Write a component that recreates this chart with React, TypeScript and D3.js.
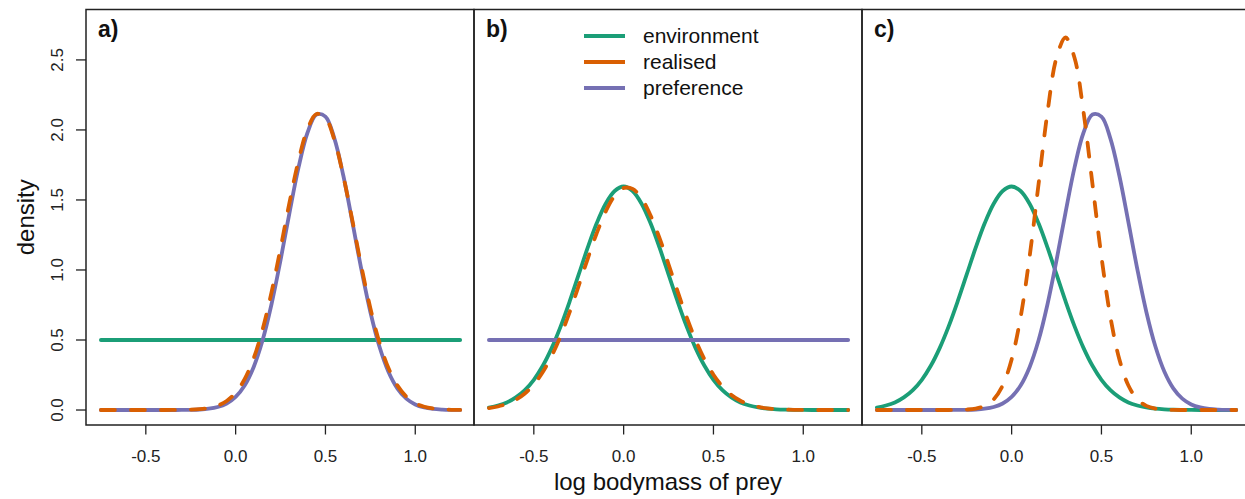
import React from 'react';
import * as d3 from 'd3';

// Shared evaluation grid for the density curves (log bodymass of prey)
const xGrid = [
  -0.75, -0.7, -0.65, -0.6, -0.55, -0.5, -0.45, -0.4, -0.35, -0.3,
  -0.25, -0.2, -0.15, -0.1, -0.05, 0, 0.05, 0.1, 0.15, 0.2,
  0.25, 0.3, 0.35, 0.4, 0.45, 0.5, 0.55, 0.6, 0.65, 0.7,
  0.75, 0.8, 0.85, 0.9, 0.95, 1.0, 1.05, 1.1, 1.15, 1.2, 1.25,
];

// Flat (uniform) density endpoints
const flatX = [-0.75, 1.25];
const flatDensity = [0.5, 0.5];

// Environment density (bell, centred on 0)
const envDensity = [
  0.018, 0.032, 0.054, 0.09, 0.142, 0.216, 0.316, 0.444, 0.599, 0.777,
  0.968, 1.159, 1.333, 1.473, 1.564, 1.596, 1.564, 1.473, 1.333, 1.159,
  0.968, 0.777, 0.599, 0.444, 0.316, 0.216, 0.142, 0.09, 0.054, 0.032,
  0.018, 0.0095, 0.0049, 0.0024, 0.0012, 0.0005, 0.0002, 0.0001, 0, 0, 0,
];

// Preference density (bell, centred near 0.47)
const prefDensity = [
  0, 0, 0, 0, 0, 0, 0, 0, 0.0002, 0.0005,
  0.0014, 0.0037, 0.0092, 0.0213, 0.0463, 0.0932, 0.175, 0.306, 0.498, 0.757,
  1.07, 1.41, 1.731, 1.98, 2.11, 2.095, 1.938, 1.671, 1.342, 1.004,
  0.7, 0.455, 0.275, 0.155, 0.0815, 0.0399, 0.0182, 0.0077, 0.0031, 0.0011, 0.0004,
];

// Realised densities per panel
const realisedA = [
  0, 0, 0, 0, 0, 0, 0, 0, 0.0003, 0.001,
  0.0025, 0.0063, 0.0147, 0.0319, 0.0648, 0.124, 0.22, 0.368, 0.575, 0.842,
  1.154, 1.482, 1.781, 2.005, 2.114, 2.086, 1.928, 1.668, 1.352, 1.026,
  0.728, 0.485, 0.302, 0.176, 0.0963, 0.0492, 0.0235, 0.0106, 0.0044, 0.0017, 0.0006,
];
const realisedB = [
  0.0139, 0.0251, 0.0438, 0.0735, 0.118, 0.183, 0.272, 0.388, 0.532, 0.701,
  0.888, 1.08, 1.262, 1.417, 1.529, 1.585, 1.579, 1.511, 1.389, 1.227,
  1.041, 0.849, 0.665, 0.501, 0.362, 0.252, 0.168, 0.108, 0.0665, 0.0393,
  0.0224, 0.0122, 0.0064, 0.0032, 0.0016, 0.0007, 0.0003, 0.0001, 0, 0, 0,
];
const realisedC = [
  0, 0, 0, 0, 0, 0, 0, 0, 0.0002, 0.0009,
  0.0032, 0.0103, 0.0297, 0.0763, 0.175, 0.361, 0.664, 1.095, 1.614, 2.13,
  2.516, 2.66, 2.516, 2.13, 1.614, 1.095, 0.664, 0.361, 0.175, 0.0763,
  0.0297, 0.0103, 0.0032, 0.0009, 0.0002, 0, 0, 0, 0, 0, 0,
];

const panelLabels = ['a)', 'b)', 'c)'];
const xTicks = [-0.5, 0.0, 0.5, 1.0];
const yTicks = [0.0, 0.5, 1.0, 1.5, 2.0, 2.5];
const legendLabels = ['environment', 'realised', 'preference'];

const COLORS = { env: '#1B9E77', real: '#D95F02', pref: '#7570B3' };
const FONT = '"Liberation Sans", Arial, Helvetica, sans-serif';

type Series = { x: number[]; y: number[] };
const grid = (y: number[]): Series => ({ x: xGrid, y });
const flat: Series = { x: flatX, y: flatDensity };

const panels = [
  { label: panelLabels[0], env: flat, pref: grid(prefDensity), real: grid(realisedA) },
  { label: panelLabels[1], env: grid(envDensity), pref: flat, real: grid(realisedB) },
  { label: panelLabels[2], env: grid(envDensity), pref: grid(prefDensity), real: grid(realisedC) },
];

export default function App() {
  const W = 1245;
  const H = 499;
  const left = 86;
  const pw = 388;
  const top = 9.5;
  const bottom = 425;
  const lw = 3.8;

  const y = d3.scaleLinear().domain([-0.107, 2.86]).range([bottom, top]);

  const fmt = (v: number) => d3.format('.1f')(v).replace('\u2212', '-');

  const pathFor = (s: Series, xs: d3.ScaleLinear<number, number>) => {
    const pts: [number, number][] = s.x.map((xv, i) => [xv, s.y[i]]);
    return d3
      .line<[number, number]>()
      .x((d) => xs(d[0]))
      .y((d) => y(d[1]))
      .curve(d3.curveCatmullRom.alpha(0.5))(pts) as string;
  };

  return (
    <svg
      width={W}
      height={H}
      style={{ position: 'absolute', left: 0, top: 0, background: '#fff' }}
      fontFamily={FONT}
    >
      <rect x={0} y={0} width={W} height={H} fill="#fff" />
      {panels.map((p, i) => {
        const x0 = left + pw * i;
        const xs = d3.scaleLinear().domain([-0.833, 1.327]).range([x0, x0 + pw]);
        return (
          <g key={i}>
            <path d={pathFor(p.env, xs)} fill="none" stroke={COLORS.env} strokeWidth={lw} strokeLinecap="round" />
            <path d={pathFor(p.pref, xs)} fill="none" stroke={COLORS.pref} strokeWidth={lw} strokeLinecap="round" />
            <path
              d={pathFor(p.real, xs)}
              fill="none"
              stroke={COLORS.real}
              strokeWidth={lw}
              strokeLinecap="round"
              strokeDasharray="14 16"
            />
            <rect x={x0} y={top} width={pw} height={bottom - top} fill="none" stroke="#222" strokeWidth={1.5} />
            {xTicks.map((t) => (
              <g key={t}>
                <line x1={xs(t)} x2={xs(t)} y1={bottom} y2={bottom + 9.5} stroke="#222" strokeWidth={1.3} />
                <text x={xs(t)} y={462} textAnchor="middle" fontSize={17} fill="#222">
                  {fmt(t)}
                </text>
              </g>
            ))}
            <text x={x0 + 12} y={37} fontSize={23} fontWeight="bold" fill="#111">
              {p.label}
            </text>
          </g>
        );
      })}
      {yTicks.map((t) => (
        <g key={t}>
          <line x1={left - 10} x2={left} y1={y(t)} y2={y(t)} stroke="#222" strokeWidth={1.3} />
          <text
            transform={`translate(63,${y(t)}) rotate(-90)`}
            textAnchor="middle"
            fontSize={17}
            fill="#222"
          >
            {fmt(t)}
          </text>
        </g>
      ))}
      <text transform={`translate(34,${(top + bottom) / 2}) rotate(-90)`} textAnchor="middle" fontSize={24} fill="#111">
        density
      </text>
      <text x={left + pw * 1.5} y={490} textAnchor="middle" fontSize={24} fill="#111">
        log bodymass of prey
      </text>
      {legendLabels.map((l, i) => {
        const ry = 36 + 26 * i;
        const c = i === 0 ? COLORS.env : i === 1 ? COLORS.real : COLORS.pref;
        return (
          <g key={l}>
            <line x1={584} x2={625} y1={ry} y2={ry} stroke={c} strokeWidth={lw} />
            <text x={643} y={ry + 7} fontSize={21} fill="#111">
              {l}
            </text>
          </g>
        );
      })}
    </svg>
  );
}
